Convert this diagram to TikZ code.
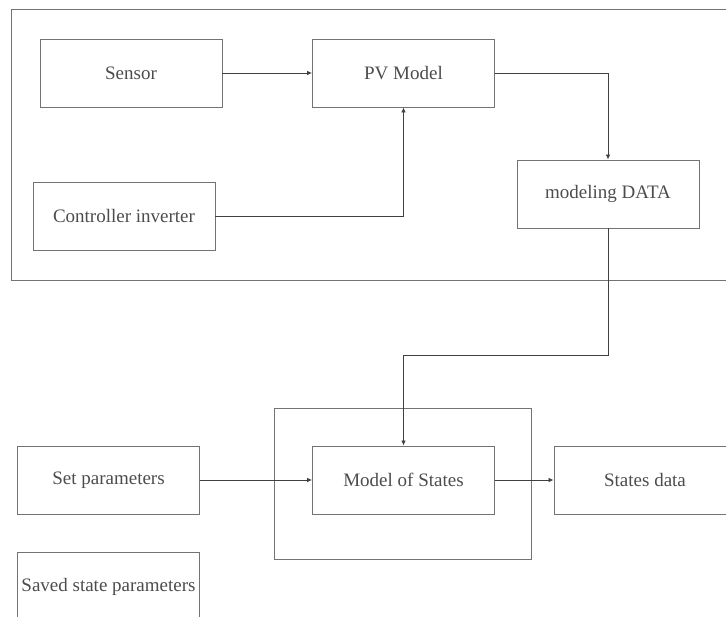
\documentclass[tikz,border=0pt]{standalone}
\usepackage{fontspec}
\setmainfont{Liberation Serif}
\usetikzlibrary{arrows.meta}

\tikzset{
  block/.style={draw=black!55, line width=0.9pt, minimum width=182pt, minimum height=68pt,
    text=black!70, font=\fontsize{19}{21}\selectfont, inner sep=2pt},
  link/.style={draw=black!75, line width=0.8pt, -{Latex[length=5pt,width=4.5pt]}},
  frame/.style={draw=black!55, line width=0.9pt}
}

\begin{document}
\begin{tikzpicture}[x=1pt, y=-1pt]
\useasboundingbox (0,0) rectangle (726,617);
\clip (0,0) rectangle (726,617);

% PV side
\draw[frame] (726,9) -- (11,9) -- (11,280) -- (726,280);
\node[block] (sensor) at (131,73) {Sensor};
\node[block] (pv) at (403.5,73) {PV Model};
\node[block] (ctrl) at (124,216.5) {Controller inverter};
\node[block] (mdata) at (608,194) {modeling DATA};

% states side
\draw[frame] (274,408) rectangle (531,559);
\node[block] (setpar) at (108.5,480) {Set parameters};
\node[block] (mstates) at (403.5,480) {Model of States};
\node[block] (sdata) at (645,480) {States data};
\node[block, anchor=north] (saved) at (108.5,552) {Saved state parameters};

\coordinate (bend) at (608,355);

\draw[link] (sensor) -- (pv);
\draw[link] (ctrl.east) -| (pv.south);
\draw[link] (pv.east) -| (mdata.north);
\draw[link] (mdata.south) -- (bend) -| (mstates.north);
\draw[link] (setpar) -- (mstates);
\draw[link] (mstates.east) -- (sdata.west);
\end{tikzpicture}
\end{document}
